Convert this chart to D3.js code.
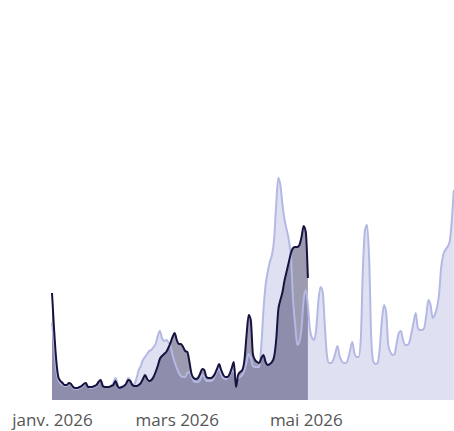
<!DOCTYPE html>
<html>
<head>
<meta charset="utf-8">
<script src="https://cdn.jsdelivr.net/npm/d3@7"></script>
<style>
  html, body { margin: 0; padding: 0; background: #ffffff; }
  svg { display: block; }
</style>
</head>
<body>
<div id="chart"></div>
<script>
// ---- Data ----
const startDate = "2026-01-01";
const tickDates = ["2026-01-01", "2026-03-01", "2026-05-01"];
const tickLabels = ["janv. 2026", "mars 2026", "mai 2026"];

// Current year series (dark), daily values from 1 Jan
const currentValues = [
  107, 70, 40, 23, 19, 17, 15, 15, 17, 16,
  13, 12, 12, 13, 14, 16, 17, 13, 13, 13,
  14, 15, 18, 20, 14, 13, 13, 13, 14, 15,
  19, 14, 12, 13, 14, 16, 20, 19, 15, 14,
  14, 15, 17, 21, 25, 21, 19, 20, 23, 28,
  34, 41, 44, 46, 48, 52, 57, 63, 67, 60,
  56, 56, 53, 49, 48, 38, 26, 22, 21, 22,
  26, 31, 30, 23, 22, 22, 23, 26, 31, 36,
  30, 25, 23, 23, 26, 32, 38, 13, 25, 28,
  30, 40, 65, 85, 80, 46, 40, 38, 37, 42,
  45, 38, 35, 36, 38, 43, 60, 90, 100, 108,
  120, 129, 138, 147, 152, 153, 153, 155, 163, 174,
  168, 122
];

// Reference series (light), daily values from 1 Jan
const referenceValues = [
  77, 55, 30, 20, 17, 15, 14, 14, 16, 15,
  12, 11, 11, 12, 13, 15, 17, 14, 12, 12,
  13, 14, 17, 20, 15, 13, 13, 13, 14, 17,
  22, 16, 12, 13, 14, 16, 22, 20, 15, 16,
  22, 30, 34, 40, 43, 46, 49, 50, 53, 56,
  64, 69, 62, 59, 60, 58, 54, 45, 38, 32,
  27, 24, 23, 23, 27, 28, 23, 19, 18, 18,
  20, 25, 23, 19, 19, 19, 20, 24, 29, 31,
  26, 22, 21, 22, 25, 29, 28, 21, 22, 23,
  25, 30, 38, 46, 42, 34, 33, 33, 33, 55,
  90, 115, 128, 138, 145, 160, 195, 222, 215, 195,
  180, 170, 160, 142, 100, 75, 55, 58, 72, 100,
  110, 95, 70, 62, 60, 72, 100, 113, 108, 75,
  45, 37, 37, 40, 47, 54, 44, 39, 37, 37,
  41, 50, 58, 47, 43, 43, 60, 130, 170, 175,
  140, 60, 38, 36, 37, 52, 80, 95, 88, 55,
  48, 45, 46, 57, 67, 69, 60, 55, 55, 58,
  67, 78, 87, 72, 70, 70, 72, 85, 100, 95,
  82, 85, 92, 105, 132, 145, 150, 153, 158, 178,
  210
];

// ---- Chart ----
const width = 454, height = 431;
const parse = d3.utcParse("%Y-%m-%d");
const t0 = parse(startDate);

const current = currentValues.map((v, i) => ({ date: d3.utcDay.offset(t0, i), value: v }));
const reference = referenceValues.map((v, i) => ({ date: d3.utcDay.offset(t0, i), value: v }));

const x = d3.scaleUtc()
  .domain([t0, d3.utcDay.offset(t0, 190)])
  .range([52, 453.8]);

const y = d3.scaleLinear()
  .domain([0, 400])
  .range([400, 0]);

const svg = d3.select("#chart").append("svg")
  .attr("width", width)
  .attr("height", height);

const curve = d3.curveMonotoneX;

const area = d3.area()
  .x(d => x(d.date))
  .y0(y(0))
  .y1(d => y(d.value))
  .curve(curve);

const line = d3.line()
  .x(d => x(d.date))
  .y(d => y(d.value))
  .curve(curve);

// reference area
svg.append("path")
  .datum(reference)
  .attr("d", area)
  .attr("fill", "#dfe1f3");

// current area (translucent)
svg.append("path")
  .datum(current)
  .attr("d", area)
  .attr("fill", "#4a4870")
  .attr("fill-opacity", 0.55);

// reference line
svg.append("path")
  .datum(reference)
  .attr("d", line)
  .attr("fill", "none")
  .attr("stroke", "#b3b9e3")
  .attr("stroke-width", 2)
  .attr("stroke-linejoin", "round");

// current line
svg.append("path")
  .datum(current)
  .attr("d", line)
  .attr("fill", "none")
  .attr("stroke", "#16133f")
  .attr("stroke-width", 2)
  .attr("stroke-linejoin", "round");

// x axis
const tickVals = tickDates.map(parse);
const axis = d3.axisBottom(x)
  .tickValues(tickVals)
  .tickSize(0)
  .tickPadding(0)
  .tickFormat((d, i) => tickLabels[i]);

const gx = svg.append("g")
  .attr("transform", "translate(0,414)")
  .call(axis);
gx.select(".domain").remove();
gx.selectAll("text")
  .attr("dy", "0.71em")
  .attr("fill", "#555555")
  .style("font-family", "'Open Sans', sans-serif")
  .style("font-size", "17px");
</script>
</body>
</html>
